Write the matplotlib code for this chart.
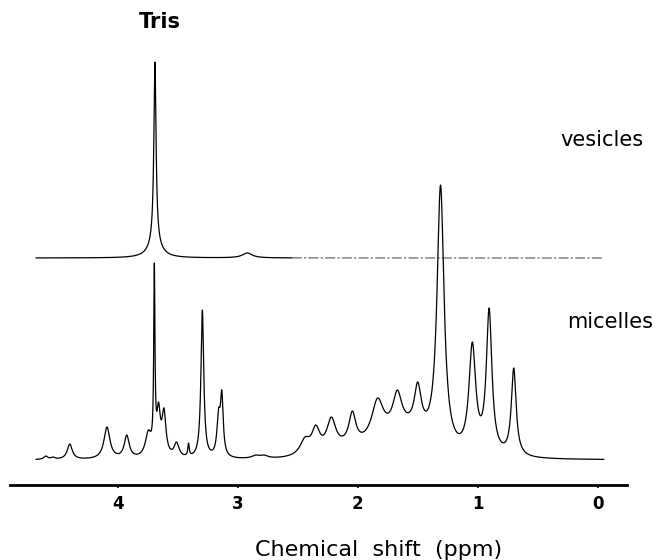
import numpy as np
import matplotlib
matplotlib.use("Agg")
from matplotlib import pyplot as plt

# chemical shift grid, ppm
ppm = np.linspace(4.68, -0.05, 5000)

# vesicles trace: line centres (ppm), heights above its baseline, half widths
ves_centre = [3.69, 2.92]
ves_height = [196, 5]
ves_width = [0.011, 0.05]
# broad foot under the Tris line (centre, amplitude, half width)
ves_foot = [(3.69, 14, 0.06)]
ves_base = 227

# micelles trace
mic_centre = [4.60, 4.54, 4.40, 4.09, 3.925, 3.745, 3.695, 3.66, 3.615, 3.51,
              3.41, 3.295, 3.16, 3.133, 2.85, 2.78, 2.44, 2.35, 2.22, 2.045,
              1.835, 1.67, 1.50, 1.31, 1.045, 0.905, 0.70]
mic_height = [4, 3, 16, 33, 25, 30, 197, 58, 52, 18,
              17, 150, 52, 70, 5, 5, 23, 35, 43, 49,
              62, 70, 78, 275, 118, 152, 92]
mic_width = [0.02, 0.02, 0.025, 0.03, 0.025, 0.03, 0.006, 0.018, 0.02, 0.025,
             0.007, 0.014, 0.016, 0.014, 0.04, 0.04, 0.05, 0.04, 0.045, 0.035,
             0.06, 0.045, 0.035, 0.035, 0.034, 0.028, 0.024]
# broad lipid hump under the 2.6-1.4 ppm lines (gaussian: centre, amplitude, sigma)
mic_hump = [(1.6, 25, 0.18), (2.05, 10, 0.22)]
mic_base = 25

tick_pos = [4, 3, 2, 1, 0]


def lorentz(x, c, w):
    return 1.0 / (1.0 + ((x - c) / w) ** 2)


def gauss(x, c, s):
    return np.exp(-0.5 * ((x - c) / s) ** 2)


def spectrum(x, centres, heights, widths, background):
    # line amplitudes chosen so the summed trace reaches each listed height at its centre
    c = np.array(centres)
    w = np.array(widths)
    t = np.array(heights, dtype=float) - background(c)
    A = lorentz(c[:, None], c[None, :], w[None, :])
    amp = np.linalg.solve(A, t)
    y = (amp[None, :] * lorentz(x[:, None], c[None, :], w[None, :])).sum(axis=1)
    return y + background(x)


def ves_background(x):
    x = np.asarray(x, dtype=float)
    return sum(a * lorentz(x, c, w) for c, a, w in ves_foot)


def mic_background(x):
    x = np.asarray(x, dtype=float)
    return sum(a * gauss(x, c, s) for c, a, s in mic_hump)


ves = ves_base + spectrum(ppm, ves_centre, ves_height, ves_width, ves_background)
mic = mic_base + spectrum(ppm, mic_centre, mic_height, mic_width, mic_background)

fig = plt.figure(figsize=(6.57, 5.6), dpi=100)
ax = fig.add_axes([10 / 657, 75 / 560, 617 / 657, 485 / 560])
ax.set_xlim(4.898, -0.244)
ax.set_ylim(0, 485)

solid = ppm >= 2.55
ax.plot(ppm[solid], ves[solid], color="black", lw=0.9)
ax.plot(ppm[~solid], ves[~solid], color="#555555", lw=0.8,
        linestyle=(0, (9, 2, 2, 2)))
ax.plot(ppm, mic, color="black", lw=0.9)

for side in ["left", "right", "top"]:
    ax.spines[side].set_visible(False)
ax.spines["bottom"].set_linewidth(2.0)
ax.set_yticks([])
ax.set_xticks(tick_pos)
ax.set_xticklabels([str(t) for t in tick_pos], fontsize=12, fontweight="bold")
ax.tick_params(axis="x", direction="out", length=2.5, width=1.2, pad=5)

ax.text(3.65, 463, "Tris", ha="center", va="center", fontsize=15,
        fontweight="bold")
ax.text(-0.035, 345, "vesicles", ha="center", va="center", fontsize=15)
ax.text(-0.10, 163, "micelles", ha="center", va="center", fontsize=15)
ax.text(369 / 617, -65 / 485, "Chemical  shift  (ppm)", transform=ax.transAxes,
        ha="center", va="center", fontsize=16)

fig.savefig("out.png", dpi=100)
